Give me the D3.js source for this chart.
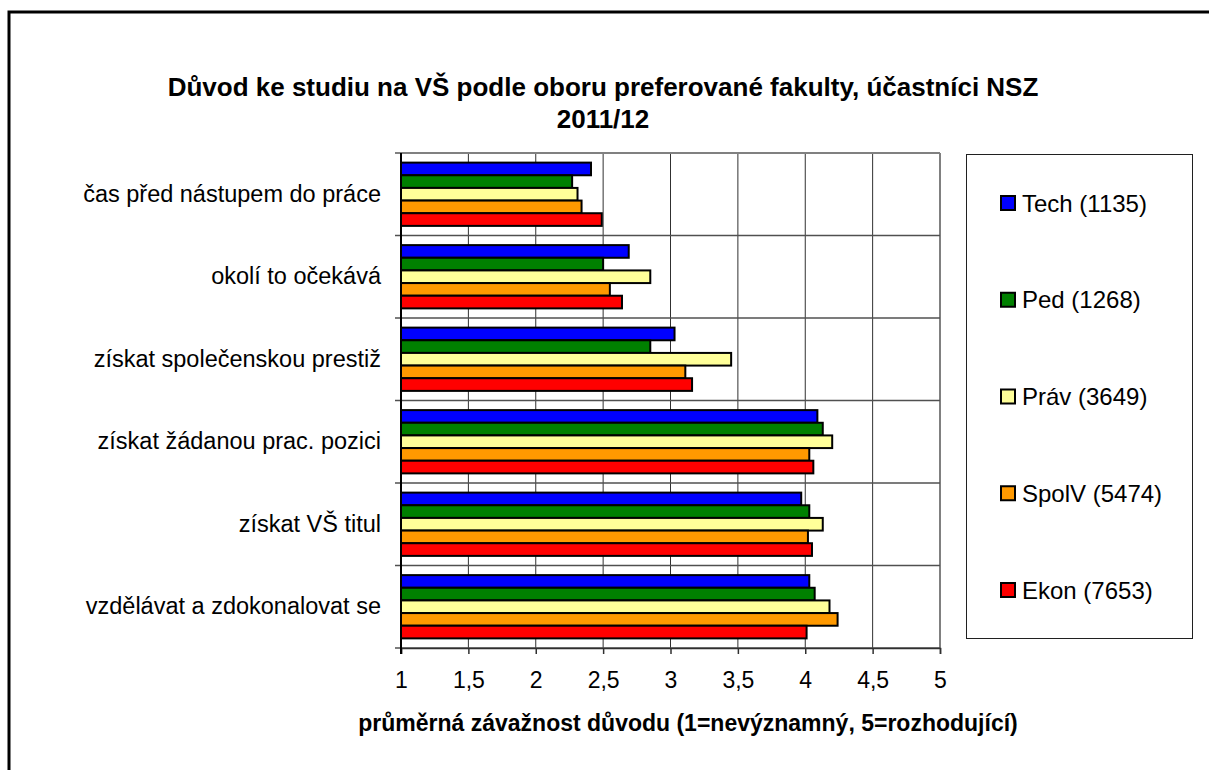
<!DOCTYPE html>
<html>
<head>
<meta charset="utf-8">
<script src="https://cdn.jsdelivr.net/npm/d3@7"></script>
<style>
  body { margin: 0; background: #fff; }
  text { font-family: "Liberation Sans", Arial, sans-serif; fill: #000; }
</style>
</head>
<body>
<div id="chart-area"></div>
<script>

// Data
var categories = [
  "čas před nástupem do práce",
  "okolí to očekává",
  "získat společenskou prestiž",
  "získat žádanou prac. pozici",
  "získat VŠ titul",
  "vzdělávat a zdokonalovat se"
];

var seriesNames = ["Tech (1135)", "Ped (1268)", "Práv (3649)", "SpolV (5474)", "Ekon (7653)"];
var seriesColors = ["#0000ff", "#008000", "#ffff99", "#ff9900", "#ff0000"];

var tech  = [2.41, 2.69, 3.03, 4.09, 3.97, 4.03];
var ped   = [2.27, 2.50, 2.85, 4.13, 4.03, 4.07];
var prav  = [2.31, 2.85, 3.45, 4.20, 4.13, 4.18];
var spolv = [2.34, 2.55, 3.11, 4.03, 4.02, 4.24];
var ekon  = [2.49, 2.64, 3.16, 4.06, 4.05, 4.01];

var xTicks = [1, 1.5, 2, 2.5, 3, 3.5, 4, 4.5, 5];

var seriesValues = [tech, ped, prav, spolv, ekon];

// SVG drawing area
var W = 1209, H = 770;
var margin = {top: 153, right: 269, bottom: 122, left: 401};
var width = W - margin.left - margin.right,
    height = H - margin.top - margin.bottom;

var svg = d3.select("#chart-area").append("svg")
    .attr("width", W)
    .attr("height", H);

// outer frame (right and bottom edges run off the picture)
svg.append("rect")
    .attr("x", 9).attr("y", 12)
    .attr("width", W + 20).attr("height", H + 20)
    .attr("fill", "none")
    .attr("stroke", "#000")
    .attr("stroke-width", 3);

// Title
svg.append("text")
    .attr("x", 603).attr("y", 96)
    .attr("text-anchor", "middle")
    .style("font-size", "26px").style("font-weight", "bold")
    .text("Důvod ke studiu na VŠ podle oboru preferované fakulty, účastníci NSZ");
svg.append("text")
    .attr("x", 603).attr("y", 128)
    .attr("text-anchor", "middle")
    .style("font-size", "26px").style("font-weight", "bold")
    .text("2011/12");

var group = svg.append("g")
    .attr("transform", "translate(" + margin.left + "," + margin.top + ")");

// Scales
var x = d3.scaleLinear()
    .domain([1, 5])
    .range([0, width]);

var y0 = d3.scaleBand()
    .domain(categories)
    .range([0, height])
    .padding(0);

var y1 = d3.scaleBand()
    .domain(d3.range(seriesNames.length))
    .range([0, y0.bandwidth()])
    .paddingInner(0)
    .paddingOuter(0.76);

// vertical grid lines
group.selectAll(".vgrid")
    .data(xTicks.slice(1))
    .enter().append("line")
    .attr("class", "vgrid")
    .attr("x1", function(d) { return x(d); })
    .attr("x2", function(d) { return x(d); })
    .attr("y1", 0).attr("y2", height)
    .attr("stroke", function(d) { return d === 5 ? "#808080" : "#303030"; })
    .attr("stroke-width", function(d) { return d === 5 ? 2 : 1; });

// horizontal category separators, with little ticks left of the axis
group.selectAll(".hgrid")
    .data(d3.range(categories.length + 1))
    .enter().append("line")
    .attr("class", "hgrid")
    .attr("x1", -6).attr("x2", width)
    .attr("y1", function(i) { return i * y0.step(); })
    .attr("y2", function(i) { return i * y0.step(); })
    .attr("stroke", function(i) { return i === 0 ? "#808080" : "#505050"; })
    .attr("stroke-width", function(i) { return i === 0 ? 2 : 1.5; });

// Bars
var rows = [];
categories.forEach(function(c, ci) {
  seriesValues.forEach(function(vals, si) {
    rows.push({cat: c, s: si, value: vals[ci]});
  });
});

group.selectAll("rect.bar")
    .data(rows)
    .enter().append("rect")
    .attr("class", "bar")
    .attr("x", x(1))
    .attr("y", function(d) { return y0(d.cat) + y1(d.s); })
    .attr("width", function(d) { return x(d.value) - x(1); })
    .attr("height", y1.bandwidth())
    .attr("fill", function(d) { return seriesColors[d.s]; })
    .attr("stroke", "#000")
    .attr("stroke-width", 2);

// X axis
var xAxis = d3.axisBottom(x)
    .tickValues(xTicks)
    .tickSize(6)
    .tickPadding(18)
    .tickFormat(function(d) { return String(d).replace(".", ","); });

var gx = group.append("g")
    .attr("class", "axis x-axis")
    .attr("transform", "translate(0," + height + ")")
    .call(xAxis);
gx.select(".domain").attr("stroke", "#303030").attr("stroke-width", 1.5);
gx.selectAll(".tick line").attr("stroke", "#303030").attr("stroke-width", 1.5);
gx.selectAll("text")
    .style("font-size", "23px")
    .style("font-family", "'Liberation Sans', Arial, sans-serif")
    .attr("fill", "#000");

// Y axis: labels only, line drawn on top of bars
var yAxis = d3.axisLeft(y0).tickSize(0).tickPadding(20);
var gy = group.append("g")
    .attr("class", "axis y-axis")
    .call(yAxis);
gy.select(".domain").remove();
gy.selectAll("text")
    .style("font-size", "23.5px")
    .style("font-family", "'Liberation Sans', Arial, sans-serif")
    .attr("fill", "#000");

group.append("line")
    .attr("x1", 0).attr("x2", 0)
    .attr("y1", 0).attr("y2", height + 6)
    .attr("stroke", "#000")
    .attr("stroke-width", 2);

// axis title
svg.append("text")
    .attr("x", 688).attr("y", 731)
    .attr("text-anchor", "middle")
    .style("font-size", "23px").style("font-weight", "bold")
    .text("průměrná závažnost důvodu (1=nevýznamný, 5=rozhodující)");

// Legend
var legend = svg.append("g");
legend.append("rect")
    .attr("x", 966.5).attr("y", 154.5)
    .attr("width", 226).attr("height", 484)
    .attr("fill", "#fff")
    .attr("stroke", "#202020")
    .attr("stroke-width", 1);

var legendY = d3.scalePoint()
    .domain(seriesNames)
    .range([203, 590]);

var item = legend.selectAll(".item")
    .data(seriesNames)
    .enter().append("g")
    .attr("class", "item")
    .attr("transform", function(d) { return "translate(1001," + legendY(d) + ")"; });

item.append("rect")
    .attr("x", 0).attr("y", -7)
    .attr("width", 14).attr("height", 14)
    .attr("fill", function(d, i) { return seriesColors[i]; })
    .attr("stroke", "#000")
    .attr("stroke-width", 2);

item.append("text")
    .attr("x", 21).attr("y", 8.5)
    .style("font-size", "24px")
    .text(function(d) { return d; });

</script>
</body>
</html>
